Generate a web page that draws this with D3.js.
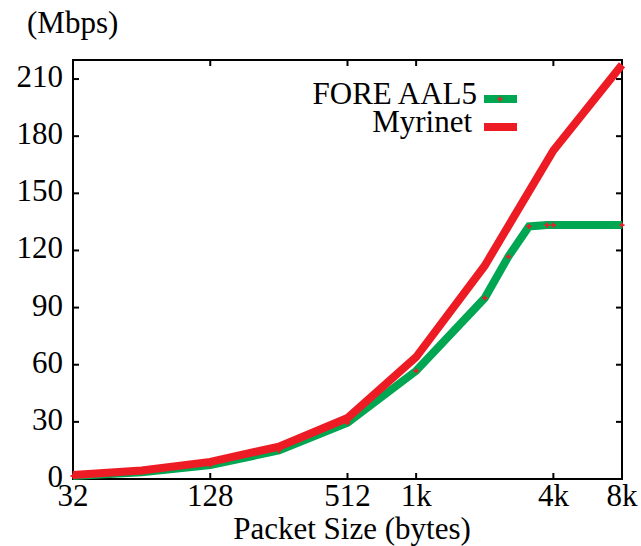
<!DOCTYPE html>
<html>
<head>
<meta charset="utf-8">
<script src="https://cdn.jsdelivr.net/npm/d3@7"></script>
<style>
  @font-face { font-family: "RefSerif"; src: local("Liberation Serif"), local("LiberationSerif"), local("Tinos"); }
  body { margin: 0; background: #fff; }
  svg text { font-family: "RefSerif", "Liberation Serif", Tinos, "Times New Roman", serif; }
</style>
</head>
<body>
<svg id="s" width="641" height="546"></svg>
<script>
// packet size (bytes) and throughput (Mbps)
const foreSizes = [32, 64, 128, 256, 512, 1024, 2048, 2600, 3200, 3840, 4096, 8192];
const foreMbps = [1.6, 3.6, 7.3, 15, 29.5, 56.8, 95, 116.8, 132.6, 133.3, 133.3, 133.3];
const myrinetSizes = [32, 64, 128, 256, 512, 1024, 2048, 4096, 8192];
const myrinetMbps = [2.1, 4.5, 9, 17, 32, 64, 112, 172.5, 217.5];

const xTicks = [32, 128, 512, 1024, 4096, 8192];
const xTickLabels = ["32", "128", "512", "1k", "4k", "8k"];
const yTicks = [0, 30, 60, 90, 120, 150, 180, 210];

const width = 641, height = 546;
const margin = { top: 60, right: 19, bottom: 67, left: 73 };
const red = "#ed1c24", green = "#00a651";

const svg = d3.select("#s");

const label = (sel) => sel
  .style("font-family", '"Liberation Serif", Tinos, "Times New Roman", serif')
  .attr("font-size", 31);

const x = d3.scaleLog().base(2)
  .domain([32, 8192])
  .range([margin.left, width - margin.right]);

const y = d3.scaleLinear()
  .domain([0, 220])
  .range([height - margin.bottom, margin.top]);

const line = d3.line()
  .x(d => x(d[0]))
  .y(d => y(d[1]));

const fore = foreSizes.map((s, i) => [s, foreMbps[i]]);
const myrinet = myrinetSizes.map((s, i) => [s, myrinetMbps[i]]);

// tick labels and titles first
svg.append("g")
  .selectAll("text")
  .data(yTicks)
  .join("text")
  .call(label)
  .attr("x", margin.left - 10)
  .attr("y", d => y(d) + 8)
  .attr("text-anchor", "end")
  .text(d => d);

svg.append("g")
  .selectAll("text")
  .data(xTicks)
  .join("text")
  .call(label)
  .attr("x", d => x(d))
  .attr("y", 506)
  .attr("text-anchor", "middle")
  .text((d, i) => xTickLabels[i]);

svg.append("text")
  .call(label)
  .attr("x", 27)
  .attr("y", 33)
  .text("(Mbps)");

svg.append("text")
  .call(label)
  .attr("x", 352)
  .attr("y", 539)
  .attr("text-anchor", "middle")
  .text("Packet Size (bytes)");

// frame
svg.append("rect")
  .attr("x", margin.left)
  .attr("y", margin.top)
  .attr("width", width - margin.left - margin.right)
  .attr("height", height - margin.top - margin.bottom)
  .attr("fill", "none")
  .attr("stroke", "#000")
  .attr("stroke-width", 2);

// ticks, inward on all four sides
const tickLen = 6;
const ticks = svg.append("g").attr("stroke", "#000").attr("stroke-width", 2);
yTicks.forEach(v => {
  ticks.append("line")
    .attr("x1", x.range()[0]).attr("x2", x.range()[0] + tickLen)
    .attr("y1", y(v)).attr("y2", y(v));
  ticks.append("line")
    .attr("x1", x.range()[1]).attr("x2", x.range()[1] - tickLen)
    .attr("y1", y(v)).attr("y2", y(v));
});
xTicks.forEach(v => {
  ticks.append("line")
    .attr("x1", x(v)).attr("x2", x(v))
    .attr("y1", y.range()[0]).attr("y2", y.range()[0] - tickLen);
  ticks.append("line")
    .attr("x1", x(v)).attr("x2", x(v))
    .attr("y1", y.range()[1]).attr("y2", y.range()[1] + tickLen);
});

// series
const plot = svg.append("g");
const cross = d3.symbol().type(d3.symbolCross).size(14);

plot.append("path")
  .datum(fore)
  .attr("d", line)
  .attr("fill", "none")
  .attr("stroke", green)
  .attr("stroke-width", 8);

plot.append("g")
  .selectAll("path")
  .data(fore)
  .join("path")
  .attr("transform", d => `translate(${x(d[0])},${y(d[1])})`)
  .attr("d", cross)
  .attr("fill", red);

plot.append("path")
  .datum(myrinet)
  .attr("d", line)
  .attr("fill", "none")
  .attr("stroke", red)
  .attr("stroke-width", 8);

// legend
const legend = svg.append("g");
const legendItems = [
  { name: "FORE AAL5", color: green, y: 99, dx: 477, mark: true },
  { name: "Myrinet", color: red, y: 127, dx: 472, mark: false }
];
legendItems.forEach(d => {
  legend.append("text")
    .call(label)
    .attr("x", d.dx)
    .attr("y", d.y + 5)
    .attr("text-anchor", "end")
    .text(d.name);
  legend.append("line")
    .attr("x1", 484).attr("x2", 517)
    .attr("y1", d.y).attr("y2", d.y)
    .attr("stroke", d.color)
    .attr("stroke-width", 8);
  if (d.mark) {
    legend.append("path")
      .attr("transform", `translate(500,${d.y})`)
      .attr("d", cross)
      .attr("fill", red);
  }
});
</script>
</body>
</html>
